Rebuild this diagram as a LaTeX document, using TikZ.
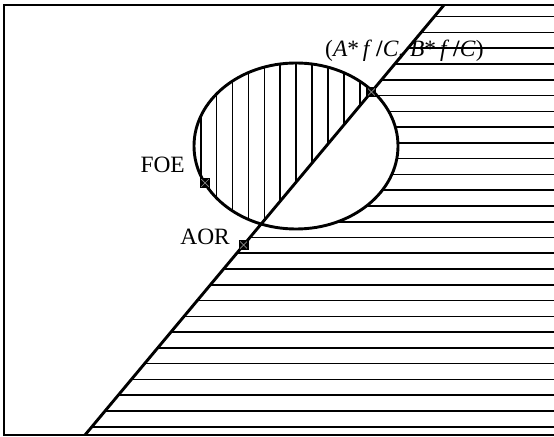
\documentclass[tikz,border=0pt]{standalone}
\usepackage{fontspec}
\setmainfont{Liberation Serif}
\usetikzlibrary{calc}
\tikzset{
  frameline/.style={line width=1.5bp,draw=black},
  boldline/.style={line width=2.9bp,draw=black},
  hatch/.style={line width=1.6bp,draw=black},
  mk/.style={draw,line width=1.4bp,fill=black,minimum size=8.5bp,inner sep=0pt,
    path picture={\draw[line width=0.7bp,black!45] (path picture bounding box.north west)--(path picture bounding box.south east)
      (path picture bounding box.north east)--(path picture bounding box.south west);}},
  lbl/.style={inner sep=0pt,font=\fontsize{23.5}{27}\selectfont},
}
\begin{document}
\begin{tikzpicture}[x=1bp,y=-1bp]
    \useasboundingbox (0,0) rectangle (554,437);
    \coordinate (lo) at (85,435);\coordinate (hi) at (444,5);
    \coordinate (ctr) at (296,146);
    \coordinate (apex) at (371.4,92);\coordinate (foe) at (205,183);\coordinate (aor) at (243.6,245);
    \begin{scope}[even odd rule]
      \clip (lo)--(hi)--(554,5)--(554,435)--cycle;
      \clip (0,0) rectangle (554,437) (ctr) ellipse [x radius=102,y radius=83];
      \foreach \k in {0,...,26}{\draw[hatch] (0,16.7+15.77*\k)--(554,16.7+15.77*\k);}
    \end{scope}
    \begin{scope}
      \clip (lo)--(hi)--(0,5)--(0,435)--cycle;
      \clip (ctr) ellipse [x radius=102,y radius=83];
      \foreach \k in {0,...,10}{\draw[hatch] (200.7+15.9*\k,50)--(200.7+15.9*\k,240);}
    \end{scope}
    \draw[frameline] (554,5)--(4,5)--(4,435)--(554,435);
    \draw[boldline] (ctr) ellipse [x radius=102,y radius=83];
    \draw[boldline] (lo)--(hi);
    \node[mk] (apexmk) at (apex){};
    \node[mk] (foemk) at (foe){};
    \node[mk] (aormk) at (aor){};
    \node[lbl,anchor=base west] (apexlbl) at (325,57){(\textit{A}*\,\textit{f}\,\textbf{/}\textit{C}, \textit{B}*\,\textit{f}\,\textbf{/}\textit{C})};
    \node[lbl,anchor=base east] (foelbl) at (185,173){FOE};
    \node[lbl,anchor=base east] (aorlbl) at (230,245){AOR};
\end{tikzpicture}
\end{document}
